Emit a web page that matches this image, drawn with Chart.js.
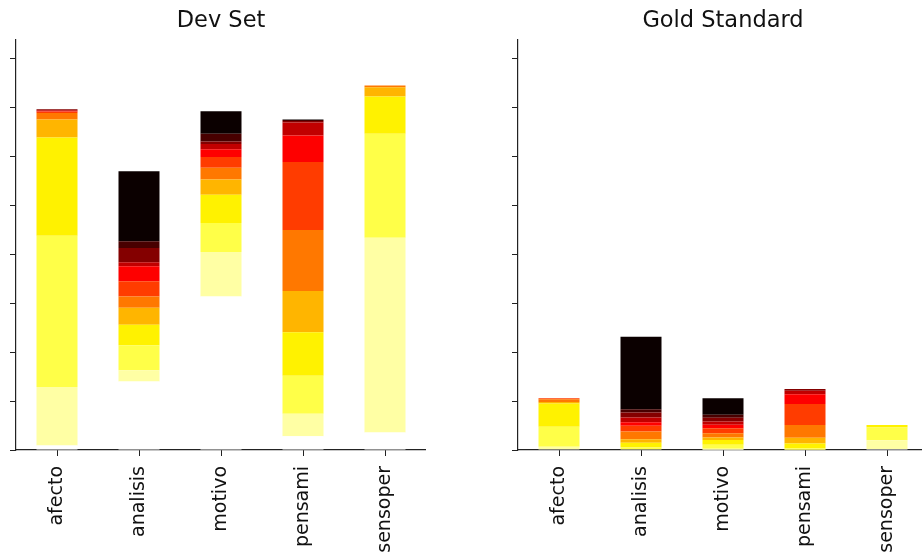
<!DOCTYPE html>
<html>
<head>
<meta charset="utf-8">
<script src="https://cdn.jsdelivr.net/npm/chart.js@4/dist/chart.umd.min.js"></script>
<style>
html, body { margin: 0; padding: 0; overflow: hidden; background: #fff; }
.panel { position: absolute; top: 0; }
#devBox { left: 0; }
#goldBox { left: 502px; }
</style>
</head>
<body>
<div class="panel" id="devBox"><canvas id="devChart" width="426" height="552"></canvas></div>
<div class="panel" id="goldBox"><canvas id="goldChart" width="426" height="552"></canvas></div>
<script>
const CATEGORIES = ['afecto', 'analisis', 'motivo', 'pensami', 'sensoper'];

// 'hot' colormap, 12 levels, listed bottom of the stack -> top
const HOT = ['#ffffff', '#ffffa4', '#ffff48', '#fff200', '#ffb500', '#ff7800',
             '#ff3c00', '#fe0000', '#c10000', '#840000', '#480000', '#0b0000'];

// stack segments per bar, bottom -> top
const devAfecto   = [0.09, 1.20, 3.09, 2.01, 0.37, 0.13, 0.03, 0.01, 0.02, 0.02, 0, 0];
const devAnalisis = [1.40, 0.23, 0.51, 0.42, 0.35, 0.23, 0.31, 0.31, 0.08, 0.29, 0.14, 1.43];
const devMotivo   = [3.14, 0.91, 0.59, 0.58, 0.31, 0.24, 0.22, 0.16, 0.11, 0.05, 0.16, 0.46];
const devPensami  = [0.28, 0.46, 0.78, 0.89, 0.84, 1.25, 1.39, 0.54, 0.27, 0.03, 0.02, 0.01];
const devSensoper = [0.36, 3.98, 2.13, 0.76, 0.19, 0.035, 0, 0, 0, 0, 0, 0];

const goldAfecto   = [0.015, 0.05, 0.41, 0.475, 0.03, 0.06, 0.02, 0, 0, 0, 0, 0];
const goldAnalisis = [0.01, 0.01, 0.03, 0.10, 0.07, 0.16, 0.115, 0.07, 0.10, 0.10, 0.07, 1.48];
const goldMotivo   = [0.005, 0.02, 0.08, 0.10, 0.05, 0.09, 0.10, 0.07, 0.07, 0.075, 0.06, 0.34];
const goldPensami  = [0, 0.005, 0.03, 0.10, 0.115, 0.26, 0.43, 0.20, 0.07, 0.035, 0, 0];
const goldSensoper = [0.02, 0.18, 0.26, 0.05, 0, 0, 0, 0, 0, 0, 0, 0];

const Y_MAX = 8.385;
const AXIS_COLOR = '#222';

Chart.defaults.font.family = '"DejaVu Sans", sans-serif';
Chart.defaults.color = '#111';
Chart.defaults.animation = false;

function buildDatasets(bars) {
    return HOT.map(function (color, level) {
        return {
            label: 'level ' + level,
            data: bars.map(function (b) { return b[level]; }),
            backgroundColor: color,
            borderWidth: 0,
            stack: 's',
            categoryPercentage: 1.0,
            barPercentage: 0.5
        };
    });
}

function makeConfig(title, bars) {
    return {
        type: 'bar',
        data: {
            labels: CATEGORIES,
            datasets: buildDatasets(bars)
        },
        options: {
            responsive: false,
            // y axis has zero width, its tick marks hang into the left padding
            layout: { padding: { left: 16, right: 0, top: 0, bottom: 0 } },
            plugins: {
                legend: { display: false },
                tooltip: { enabled: false },
                title: {
                    display: true,
                    text: title,
                    font: { size: 22.5, weight: 'normal' },
                    color: '#111',
                    padding: { top: 8, bottom: 5 }
                }
            },
            scales: {
                x: {
                    stacked: true,
                    grid: { offset: false, drawOnChartArea: false, drawTicks: true, tickLength: 6, color: AXIS_COLOR },
                    border: { display: true, color: AXIS_COLOR, width: 1.2 },
                    ticks: { font: { size: 19 }, color: '#111', minRotation: 90, maxRotation: 90, padding: 10 },
                    afterFit: function (scale) { scale.height = 102; }
                },
                y: {
                    stacked: true,
                    min: 0,
                    max: Y_MAX,
                    grid: { drawOnChartArea: false, drawTicks: true, tickLength: 6, color: AXIS_COLOR },
                    border: { display: true, color: AXIS_COLOR, width: 1.2 },
                    ticks: { display: false, stepSize: 1, includeBounds: false },
                    afterFit: function (scale) { scale.width = 0; }
                }
            }
        }
    };
}

new Chart(
    document.getElementById('devChart'),
    makeConfig('Dev Set', [devAfecto, devAnalisis, devMotivo, devPensami, devSensoper])
);

new Chart(
    document.getElementById('goldChart'),
    makeConfig('Gold Standard', [goldAfecto, goldAnalisis, goldMotivo, goldPensami, goldSensoper])
);
</script>
</body>
</html>
